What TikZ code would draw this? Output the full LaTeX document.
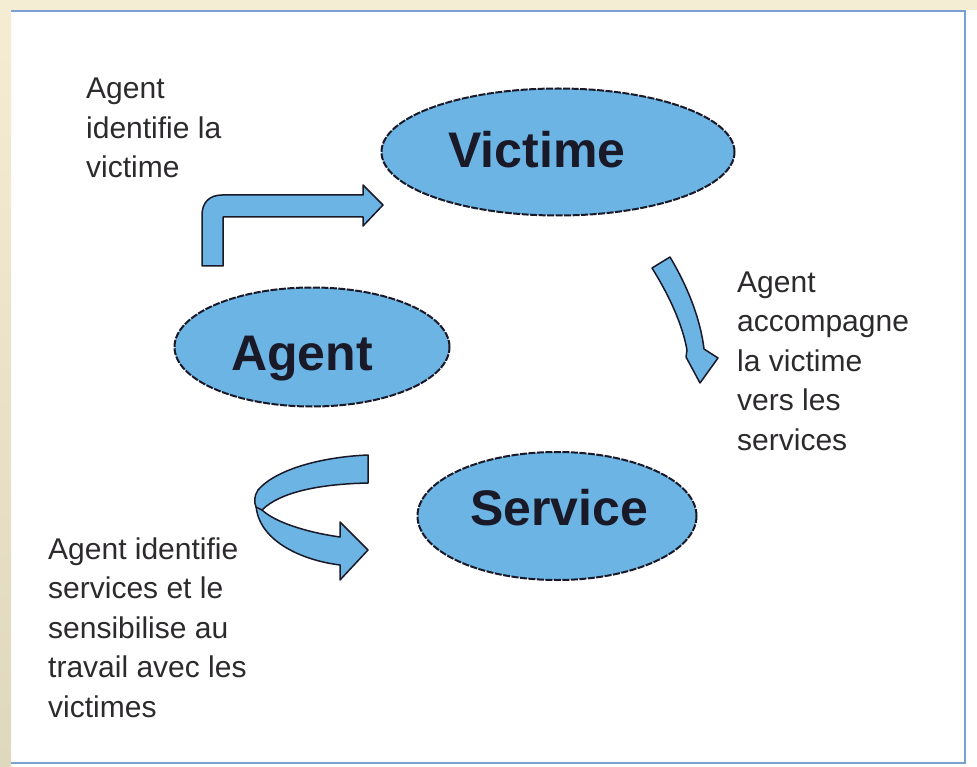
\documentclass[tikz,border=0pt]{standalone}
\usepackage{fontspec}
\setmainfont{Liberation Sans}
\usetikzlibrary{shapes.geometric}
\definecolor{blobblue}{RGB}{108,180,228}
\definecolor{edgedark}{RGB}{25,25,40}
\definecolor{framebl}{RGB}{120,160,208}
\definecolor{beige}{RGB}{245,236,212}
\definecolor{beigedk}{RGB}{222,216,188}
\definecolor{notegray}{RGB}{45,42,45}
\begin{document}
\begin{tikzpicture}[x=1pt,y=-1pt,
  bubble/.style={ellipse, fill=blobblue, draw=edgedark, line width=2pt, dash pattern=on 7pt off 1.5pt, inner sep=0},
  bubtext/.style={font=\fontsize{50}{60}\selectfont\bfseries, text=edgedark, inner sep=0, anchor=base},
  note/.style={font=\fontsize{30}{39.5}\selectfont, text=notegray, align=left, inner sep=0, anchor=base west},
  ribbon/.style={fill=blobblue, draw=edgedark, line width=1.5pt, line join=round}]
\useasboundingbox (0,0) rectangle (977,767);
\fill[white] (0,0) rectangle (977,767);
\shade[top color=beige, bottom color=beigedk] (0,0) rectangle (11,767);
\fill[beige] (0,0) rectangle (977,10);
\draw[framebl, line width=2pt] (11,11) -- (965,11) -- (965,763) -- (11,763);

% ellipses
\node[bubble, minimum width=353, minimum height=127] (victime) at (558,152) {};
\node[bubble, minimum width=275, minimum height=119] (agent) at (312,347) {};
\node[bubble, minimum width=279, minimum height=128] (service) at (557,516) {};
\node[bubtext] (tv) at (537,168) {Victime};
\node[bubtext] (ta) at (302,370) {Agent};
\node[bubtext] (ts) at (559,525) {Service};

% notes (anchor = baseline of the last line)
\node[note] (n1) at (86,178) {Agent\\identifie la\\victime};
\node[note] (n2) at (737,450) {Agent\\accompagne\\la victime\\vers les\\services};
\node[note] (n3) at (48,717) {Agent identifie\\services et le\\sensibilise au\\travail avec les\\victimes};

% arrow 1: bent arrow
\draw[ribbon] (202,266) -- (223,266) -- (223,217) -- (363,217) -- (363,226) -- (383,205) -- (363,185) -- (363,195) -- (222,195) .. controls (209,195) and (202,203) .. (202,215) -- cycle;

% arrow 2: curved down arrow
\draw[ribbon] (652,268) .. controls (667,292) and (682,322) .. (687,350) -- (686,357) -- (700,383) -- (718,358) -- (704,349) .. controls (700,316) and (686,284) .. (670,257) -- cycle;

% arrow 3: U-turn ribbon
\draw[ribbon] (256,505) .. controls (258,540) and (300,560) .. (340,565) -- (340,580) -- (368,550) -- (340,522) -- (340,537) .. controls (305,532) and (275,522) .. (262,510) -- cycle;
\draw[ribbon] (368,455) .. controls (320,457) and (275,470) .. (258,490) .. controls (254,496) and (254,502) .. (256,507) -- (262,510) .. controls (280,492) and (320,484) .. (368,483) -- cycle;
\end{tikzpicture}
\end{document}
